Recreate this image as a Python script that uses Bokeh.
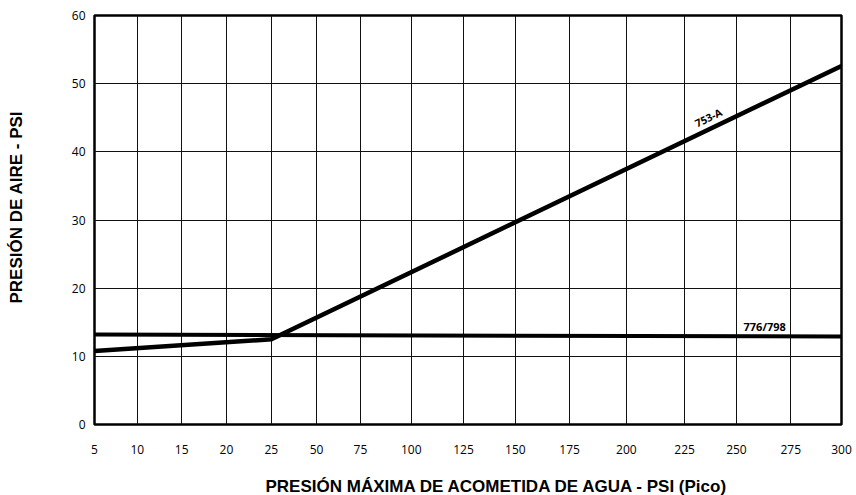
import numpy as np
from bokeh.plotting import figure
from bokeh.models import Range1d, FixedTicker, CustomJSTickFormatter, Title
from bokeh.core.properties import value
from bokeh.embed import file_html
from bokeh.resources import INLINE

# x axis: tick labels (PSI) and their place on the chart's drawn (non-uniform) scale
x_tick_labels = [5, 10, 15, 20, 25, 50, 75, 100, 125, 150, 175, 200, 225, 250, 275, 300]
x_grid_pos = [0, 0.86, 1.75, 2.65, 3.55, 4.46, 5.34, 6.36, 7.41, 8.45, 9.54, 10.68, 11.85, 12.89, 13.98, 15.0]
y_ticks = [0, 10, 20, 30, 40, 50, 60]

# series 753-A
s753_water = [5, 25, 300]
s753_air = [10.8, 12.5, 52.6]
# series 776/798
s776_water = [5, 300]
s776_air = [13.2, 12.9]

# label anchors (water psi, air psi)
lab753 = (236.5, 45.0)
lab776 = (263.0, 14.4)

x_title = "PRESIÓN MÁXIMA DE ACOMETIDA DE AGUA - PSI (Pico)"
y_title = "PRESIÓN DE AIRE - PSI"


def to_axis(v):
    return np.interp(v, x_tick_labels, x_grid_pos)


p = figure(width=856, height=495, output_backend="svg", toolbar_location=None,
           x_range=Range1d(x_grid_pos[0], x_grid_pos[-1]), y_range=Range1d(0, 60),
           min_border_left=94, min_border_right=15, min_border_top=15, min_border_bottom=71)

p.background_fill_color = "white"
p.border_fill_color = "white"
p.outline_line_color = "black"
p.outline_line_width = 2.5

# axes
p.xaxis.ticker = FixedTicker(ticks=x_grid_pos)
p.xaxis.formatter = CustomJSTickFormatter(args=dict(pos=x_grid_pos, lab=[str(v) for v in x_tick_labels]), code="""
    let best = 0, d = 1e9;
    for (let i = 0; i < pos.length; i++) { const e = Math.abs(pos[i] - tick); if (e < d) { d = e; best = i; } }
    return lab[best];
""")
p.yaxis.ticker = FixedTicker(ticks=y_ticks)

for ax in (p.xaxis, p.yaxis):
    ax.axis_line_color = None
    ax.major_tick_line_color = None
    ax.minor_tick_line_color = None
    ax.major_tick_out = 0
    ax.major_tick_in = 0
    ax.major_label_text_font = "Open Sans"
    ax.major_label_text_font_size = "12px"
    ax.major_label_text_color = "black"
    # blank spacer label: pushes the title panel outwards
    ax.axis_label = " "
    ax.axis_label_text_font_size = "1px"

p.xaxis.major_label_standoff = 20
p.xaxis.axis_label_standoff = 14
p.yaxis.major_label_standoff = 9
p.yaxis.axis_label_standoff = 38

title_style = dict(text_font="Liberation Sans", text_font_style="bold", text_font_size="17px",
                   text_color="black", align="left", standoff=0)
p.add_layout(Title(text=x_title, offset=171, **title_style), "below")
p.add_layout(Title(text=y_title, offset=121, **dict(title_style, standoff=2)), "left")

# grid
p.xgrid.ticker = FixedTicker(ticks=x_grid_pos)
p.ygrid.ticker = FixedTicker(ticks=y_ticks)
for g in (p.xgrid, p.ygrid):
    g.grid_line_color = "#111111"
    g.grid_line_width = 1
    g.grid_line_alpha = 1

# series
p.line(to_axis(s776_water), s776_air, line_color="black", line_width=4)
p.line(to_axis(s753_water), s753_air, line_color="black", line_width=4.5, line_join="miter")

p.text(x=[float(to_axis(lab753[0]))], y=[lab753[1]], text=["753-A"], angle=0.447,
       text_font=value("Open Sans"), text_font_style="bold", text_font_size="10.5px",
       text_align="center", text_baseline="middle", text_color="black")
p.text(x=[float(to_axis(lab776[0]))], y=[lab776[1]], text=["776/798"],
       text_font=value("Open Sans"), text_font_style="bold", text_font_size="11px",
       text_align="center", text_baseline="middle", text_color="black")

open("out.html", "w").write(file_html(p, INLINE))
